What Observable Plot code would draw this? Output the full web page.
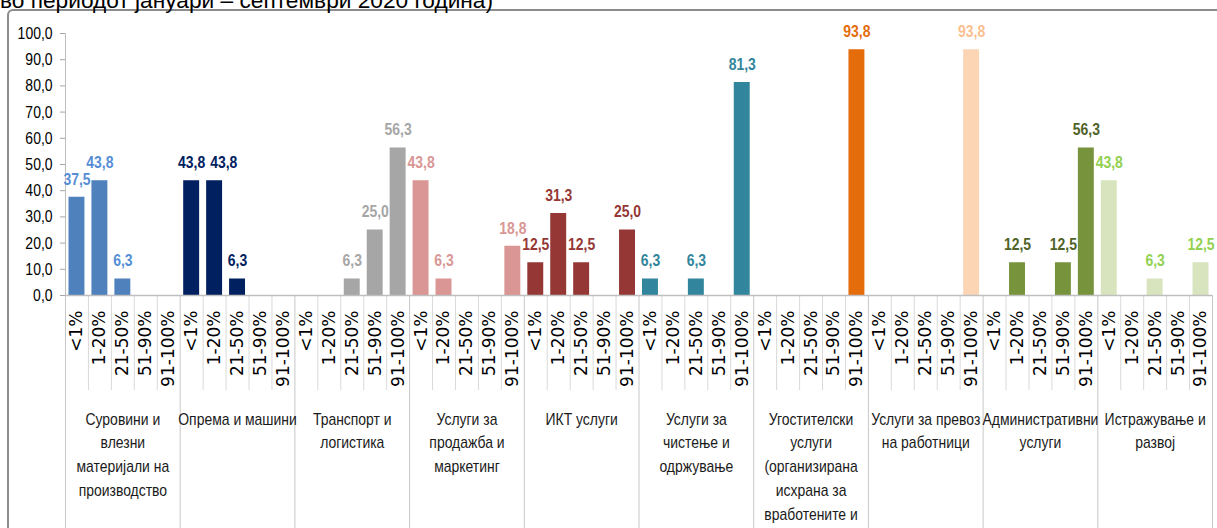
<!DOCTYPE html>
<html>
<head>
<meta charset="utf-8">
<script src="https://cdn.jsdelivr.net/npm/d3@7"></script>
<script src="https://cdn.jsdelivr.net/npm/@observablehq/plot@0.6"></script>
<style>
  html, body { margin: 0; padding: 0; overflow: hidden; background: #fff; width: 1217px; height: 528px; }
  #wrap { position: relative; width: 1217px; height: 528px; }
  #title { position: absolute; left: 0; top: -11px; font-family: "Liberation Sans", Arial, sans-serif; font-size: 22.7px; line-height: 22px; color: #000; white-space: nowrap; z-index: 3; }
  #border { position: absolute; left: 7px; top: 9px; width: 1240px; height: 560px; border: 2px solid #8c8c8c; border-radius: 6px; box-sizing: border-box; z-index: 2; pointer-events: none; }
  #chart { position: absolute; left: 0; top: 0; z-index: 1; }
</style>
</head>
<body>
<div id="wrap">
  <div id="title">во периодот јануари – септември 2020 година)</div>
  <div id="border"></div>
  <div id="chart"></div>
</div>
<script>
// Categories (groups) and bins
const groups = [
  "Суровини и\nвлезни\nматеријали на\nпроизводство",
  "Опрема и машини",
  "Транспорт и\nлогистика",
  "Услуги за\nпродажба и\nмаркетинг",
  "ИКТ услуги",
  "Услуги за\nчистење и\nодржување",
  "Угостителски\nуслуги\n(организирана\nисхрана за\nвработените и\nслично)",
  "Услуги за превоз\nна работници",
  "Административни\nуслуги",
  "Истражување и\nразвој"
];
const bins = ["<1%", "1-20%", "21-50%", "51-90%", "91-100%"];

// Series values (percent), one array per group, in bin order
const surovini      = [37.5, 43.8, 6.3, 0, 0];
const oprema        = [43.8, 43.8, 6.3, 0, 0];
const transport     = [0, 0, 6.3, 25.0, 56.3];
const prodazba      = [43.8, 6.3, 0, 0, 18.8];
const ikt           = [12.5, 31.3, 12.5, 0, 25.0];
const cistenje      = [6.3, 0, 6.3, 0, 81.3];
const ugostitelski  = [0, 0, 0, 0, 93.8];
const prevoz        = [0, 0, 0, 0, 93.8];
const administr     = [0, 12.5, 0, 12.5, 56.3];
const istrazuvanje  = [43.8, 0, 6.3, 0, 12.5];

// Y axis tick values
const yTicks = [0, 10, 20, 30, 40, 50, 60, 70, 80, 90, 100];

const seriesList = [surovini, oprema, transport, prodazba, ikt, cistenje, ugostitelski, prevoz, administr, istrazuvanje];
const barColors   = ["#4F81BD", "#002060", "#A6A6A6", "#D99694", "#953735", "#31859C", "#E46C0A", "#FCD5B5", "#77933C", "#D7E4BD"];
const labelColors = ["#558ED5", "#002060", "#A6A6A6", "#D99694", "#953735", "#31859C", "#E46C0A", "#FAC090", "#4F6228", "#92D050"];

const nb = bins.length;
const rows = [];
seriesList.forEach((vals, g) => {
  vals.forEach((v, b) => {
    rows.push({slot: g * nb + b, group: g, bin: bins[b], value: v, color: barColors[g], lcolor: labelColors[g]});
  });
});
const nonzero = rows.filter(d => d.value > 0);
const nSlots = groups.length * nb;
const slotEdges = d3.range(nSlots + 1);
const minorEdges = slotEdges.filter(i => i % nb !== 0);
const groupEdges = slotEdges.filter(i => i % nb === 0);
const fmt = v => v.toFixed(1).replace(".", ",");
// label nudge (in slot units) where two neighbouring labels would collide, as in the original
const nudge = d => (d.group === 1 && d.bin === "1-20%") ? 0.4 : 0;

const sans = "'Liberation Sans', Arial, sans-serif";

const chart = Plot.plot({
  width: 1217,
  height: 528,
  marginLeft: 65,
  marginRight: 5,
  marginTop: 33,
  marginBottom: 233,
  style: {background: "transparent", overflow: "visible", fontFamily: sans},
  x: {domain: [0, nSlots], axis: null},
  y: {domain: [0, 100], axis: null},
  color: {type: "identity"},
  marks: [
    // category separators / minor ticks below the axis
    Plot.axisX({ticks: minorEdges, tickSize: 95, tickFormat: () => "", label: null, color: "#d9d9d9"}),
    Plot.axisX({ticks: groupEdges, tickSize: 233, tickFormat: () => "", label: null, color: "#c8c8c8"}),
    // y axis
    Plot.axisY({ticks: yTicks, tickSize: 5, tickPadding: 8, tickFormat: fmt, label: null, fontSize: 17, fill: "#000", stroke: "#a6a6a6"}),
    Plot.ruleX([0], {y1: 0, y2: 100, stroke: "#bfbfbf", strokeWidth: 1}),
    // bars
    Plot.rectY(nonzero, {x1: "slot", x2: d => d.slot + 1, y: "value", fill: "color", insetLeft: 3.5, insetRight: 3.5}),
    Plot.ruleY([0], {stroke: "#bfbfbf", strokeWidth: 1.5}),
    // value labels
    Plot.text(nonzero, {x: d => d.slot + 0.5 + nudge(d), y: "value", text: d => fmt(d.value), fill: "lcolor", dy: -18, fontSize: 17, fontWeight: "bold", fontFamily: sans}),
    // rotated bin labels
    Plot.text(rows, {x: d => d.slot + 0.5, y: () => 0, text: "bin", rotate: -90, textAnchor: "end", dy: 15, fontSize: 17, fontFamily: "'DejaVu Sans', Verdana, sans-serif", fill: "#000"}),
    // group labels
    Plot.text(groups, {x: (d, i) => i * nb + nb / 2, y: () => 0, text: d => d, lineAnchor: "top", lineHeight: 1.41, dy: 112, fontSize: 17, fontFamily: sans, fill: "#1a1a1a"})
  ]
});
document.getElementById("chart").appendChild(chart);

// Give the Liberation Sans texts an "Arial Narrow" look: compress glyphs horizontally
const cyr = /[\u0400-\u04FF]/;
const num = /^\d+,\d$/;
chart.querySelectorAll("text").forEach(t => {
  const s = t.textContent.trim();
  if (!(num.test(s) || cyr.test(s))) return;
  const parts = t.querySelectorAll("tspan");
  const els = parts.length ? Array.from(parts) : [t];
  els.forEach(el => {
    const len = el.getComputedTextLength();
    if (len > 0) {
      el.setAttribute("textLength", (len * 0.82).toFixed(2));
      el.setAttribute("lengthAdjust", "spacingAndGlyphs");
    }
  });
});
</script>
</body>
</html>
